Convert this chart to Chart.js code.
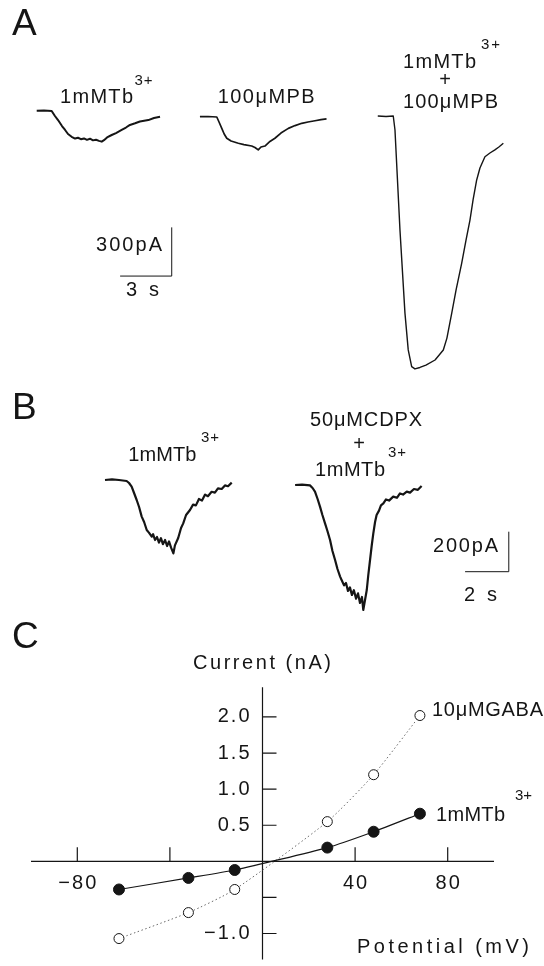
<!DOCTYPE html>
<html>
<head>
<meta charset="utf-8">
<title>Tb3+ currents</title>
<script src="https://cdn.jsdelivr.net/npm/chart.js@4.4.1/dist/chart.umd.min.js"></script>
<style>
    html, body { margin: 0; padding: 0; background: #fff; }
    body { width: 544px; height: 966px; position: relative; overflow: hidden; }
    canvas { position: absolute; left: 0; }
    #chart-a { top: 0; }
    #chart-b { top: 385px; }
    #chart-c { top: 620px; }
</style>
</head>
<body>
<canvas id="chart-a" width="544" height="385"></canvas>
<canvas id="chart-b" width="544" height="235"></canvas>
<canvas id="chart-c" width="544" height="346"></canvas>
<script>
'use strict';

// A: current traces, time in s, current in pA
var aTb3Time = [0, 0.42, 0.87, 1.06, 1.24, 1.47, 1.65, 1.82, 2.03, 2.23, 2.4, 2.57, 2.75, 2.92, 3.1, 3.27, 3.45, 3.62, 3.78, 3.91, 4.09, 4.36, 4.61, 4.94, 5.19, 5.42, 5.72, 6.0, 6.49, 6.82, 7.17];
var aTb3Current = [33, 34, 31, 0, -25, -62, -86, -111, -128, -139, -134, -143, -138, -147, -140, -150, -146, -153, -158, -149, -132, -117, -105, -86, -71, -55, -45, -34, -25, -12, -4];

var aPbTime = [9.49, 9.96, 10.47, 10.6, 10.76, 10.9, 11.05, 11.3, 11.72, 12.05, 12.5, 12.69, 12.88, 13.04, 13.27, 13.56, 13.85, 14.2, 14.63, 15.02, 15.41, 15.77, 16.18, 16.53, 16.85];
var aPbCurrent = [-4, -3, -6, -37, -76, -111, -137, -154, -168, -176, -185, -194, -209, -191, -185, -157, -137, -105, -76, -59, -45, -37, -29, -22, -18];

var aBothTime = [19.83, 20.31, 20.73, 20.83, 21.12, 21.41, 21.6, 21.8, 21.99, 22.28, 22.63, 23.16, 23.64, 23.85, 24.13, 24.38, 24.71, 24.96, 25.19, 25.37, 25.58, 25.77, 26.06, 26.35, 26.64, 26.87, 27.13];
var aBothCurrent = [0, -3, 0, -86, -702, -1214, -1441, -1544, -1558, -1549, -1534, -1503, -1441, -1368, -1214, -1072, -906, -764, -641, -517, -394, -320, -251, -228, -209, -191, -168];

var aScaleBarTime = [4.85, 7.85, 7.85];      // 3 s
var aScaleBarCurrent = [-986, -986, -686];   // 300 pA

// B: current traces, time in s, current in pA
var bTb3Time = [0, 0.32, 0.64, 0.99, 1.1, 1.22, 1.33, 1.45, 1.56, 1.68, 1.79, 1.91, 2.01, 2.14, 2.2, 2.29, 2.38, 2.47, 2.56, 2.65, 2.75, 2.84, 2.93, 3.02, 3.13, 3.2, 3.35, 3.48, 3.58, 3.71, 3.89, 4.03, 4.16, 4.3, 4.44, 4.58, 4.71, 4.88, 5.03, 5.17, 5.34, 5.49, 5.63, 5.8];
var bTb3Current = [15, 18, 15, 10, 0, -18, -50, -85, -120, -168, -195, -235, -248, -268, -256, -285, -270, -298, -276, -306, -285, -315, -292, -322, -352, -312, -275, -225, -202, -160, -135, -108, -112, -80, -88, -58, -66, -44, -48, -27, -30, -12, -16, 2];

var bCdpxTime = [8.7, 9.02, 9.38, 9.5, 9.61, 9.73, 9.84, 9.95, 10.07, 10.18, 10.3, 10.41, 10.53, 10.64, 10.76, 10.85, 10.94, 11.03, 11.12, 11.21, 11.3, 11.39, 11.49, 11.58, 11.67, 11.76, 11.82, 11.9, 11.98, 12.05, 12.13, 12.21, 12.28, 12.36, 12.43, 12.54, 12.63, 12.74, 12.86, 13.0, 13.19, 13.36, 13.5, 13.64, 13.81, 13.96, 14.14, 14.32, 14.49];
var bCdpxCurrent = [-10, -8, -12, -25, -43, -80, -118, -160, -202, -240, -285, -340, -385, -430, -468, -490, -512, -500, -540, -522, -560, -536, -578, -552, -600, -570, -635, -585, -535, -460, -385, -310, -252, -195, -160, -138, -112, -102, -82, -88, -68, -74, -52, -58, -43, -48, -30, -34, -15];

var bScaleBarTime = [16.48, 18.48, 18.48];      // 2 s
var bScaleBarCurrent = [-443.5, -443.5, -243.5]; // 200 pA

// C: current-voltage relation
var potentials = [-62, -32, -12, 28, 48, 68];
var tb3Currents = [-0.39, -0.23, -0.12, 0.19, 0.41, 0.66];
var gabaCurrents = [-1.07, -0.71, -0.39, 0.55, 1.2, 2.02];

var xTicks = [-80, -40, 40, 80];
var xTickLabels = ['\u221280', '', '40', '80'];
var yTicks = [2.0, 1.5, 1.0, 0.5, -0.5, -1.0];
var yTickLabels = ['2.0', '1.5', '1.0', '0.5', '', '\u22121.0'];

var ink = '#151515';
var fontFamily = '"Liberation Sans", Arial, sans-serif';

var toPoints = function (xs, ys) {
        return xs.map(function (x, i) { return { x: x, y: ys[i] }; });
    },

    drawText = function (ctx, label, top) {
        var size = label.size || 20,
            n = Array.from(label.text).length,
            w, ls, total, x;

        ctx.save();
        ctx.font = size + 'px ' + fontFamily;
        ctx.fillStyle = ink;
        ctx.textBaseline = 'middle';
        ctx.textAlign = 'left';
        ctx.letterSpacing = '0px';
        w = ctx.measureText(label.text).width;
        ls = label.width && n > 1 ? (label.width - w) / (n - 1) : (label.spacing || 0);
        total = w + ls * (n - 1);
        x = label.x;
        if (label.align === 'right') {
            x -= total;
        } else if (label.align === 'center') {
            x -= total / 2;
        }
        ctx.letterSpacing = ls + 'px';
        ctx.fillText(label.text, x, label.y - top);
        ctx.restore();
    },

    labelPlugin = {
        id: 'panelLabels',
        afterDraw: function (chart, args, opts) {
            (opts.labels || []).forEach(function (label) {
                drawText(chart.ctx, label, opts.top || 0);
            });
        }
    },

    crossAxesPlugin = {
        id: 'crossAxes',
        beforeDatasetsDraw: function (chart, args, opts) {
            var ctx = chart.ctx,
                xs = chart.scales.x,
                ys = chart.scales.y,
                x0 = xs.getPixelForValue(0),
                y0 = ys.getPixelForValue(0);

            ctx.save();
            ctx.strokeStyle = ink;
            ctx.lineWidth = 1.2;
            ctx.beginPath();
            ctx.moveTo(xs.getPixelForValue(opts.xFrom), y0);
            ctx.lineTo(xs.getPixelForValue(opts.xTo), y0);
            ctx.moveTo(x0, ys.getPixelForValue(opts.yTop));
            ctx.lineTo(x0, ys.getPixelForValue(opts.yBottom));
            xTicks.forEach(function (v) {
                var px = xs.getPixelForValue(v);
                ctx.moveTo(px, y0);
                ctx.lineTo(px, y0 - 14);
            });
            yTicks.forEach(function (v) {
                var py = ys.getPixelForValue(v);
                ctx.moveTo(x0, py);
                ctx.lineTo(x0 + 14, py);
            });
            ctx.stroke();
            ctx.restore();

            xTicks.forEach(function (v, i) {
                if (!xTickLabels[i]) { return; }
                drawText(ctx, { text: xTickLabels[i], x: xs.getPixelForValue(v), y: y0 + 22, align: 'center', spacing: 2 }, 0);
            });
            yTicks.forEach(function (v, i) {
                if (!yTickLabels[i]) { return; }
                drawText(ctx, { text: yTickLabels[i], x: x0 - 13, y: ys.getPixelForValue(v), align: 'right', spacing: 2 }, 0);
            });
        }
    },

    traceDataset = function (xs, ys, width) {
        return {
            data: toPoints(xs, ys),
            showLine: true,
            borderColor: ink,
            borderWidth: width,
            borderJoinStyle: 'round',
            pointRadius: 0,
            tension: 0
        };
    },

    baseOptions = function (xMin, xMax, yMin, yMax, padding, plugins) {
        return {
            responsive: false,
            animation: false,
            layout: { padding: padding },
            scales: {
                x: { type: 'linear', display: false, min: xMin, max: xMax },
                y: { type: 'linear', display: false, min: yMin, max: yMax }
            },
            plugins: Object.assign({ legend: { display: false }, tooltip: { enabled: false } }, plugins)
        };
    };

var labelsA = [
    { text: 'A', x: 12, y: 25, size: 37 },
    { text: '1mMTb', x: 60, y: 97, width: 73 },
    { text: '3+', x: 134.5, y: 81, width: 18, size: 15 },
    { text: '100\u03bcMPB', x: 217.7, y: 97, width: 97 },
    { text: '1mMTb', x: 403, y: 62, width: 73 },
    { text: '3+', x: 481, y: 45, width: 19, size: 15 },
    { text: '+', x: 445, y: 80, align: 'center' },
    { text: '100\u03bcMPB', x: 403, y: 102, width: 95 },
    { text: '300pA', x: 162, y: 245, width: 66, align: 'right' },
    { text: '3 s', x: 126, y: 290, width: 33 }
];

var labelsB = [
    { text: 'B', x: 12, y: 409, size: 37 },
    { text: '1mMTb', x: 128.3, y: 455, width: 68 },
    { text: '3+', x: 201, y: 438, width: 18, size: 15 },
    { text: '50\u03bcMCDPX', x: 310, y: 420, width: 112 },
    { text: '+', x: 359, y: 444, align: 'center' },
    { text: '1mMTb', x: 315, y: 470, width: 70 },
    { text: '3+', x: 388, y: 453, width: 18, size: 15 },
    { text: '200pA', x: 498, y: 546, width: 65, align: 'right' },
    { text: '2 s', x: 464, y: 595, width: 33 }
];

var labelsC = [
    { text: 'C', x: 12, y: 638, size: 37 },
    { text: 'Current (nA)', x: 262, y: 663, width: 138, align: 'center' },
    { text: '10\u03bcMGABA', x: 432, y: 710, width: 111 },
    { text: '1mMTb', x: 436, y: 815, width: 69 },
    { text: '3+', x: 515, y: 796, width: 17, size: 15 },
    { text: 'Potential (mV)', x: 357, y: 947, width: 172 }
];

new Chart(document.getElementById('chart-a'), {
    type: 'scatter',
    data: {
        datasets: [
            traceDataset(aTb3Time, aTb3Current, 2),
            traceDataset(aPbTime, aPbCurrent, 1.7),
            traceDataset(aBothTime, aBothCurrent, 1.4),
            traceDataset(aScaleBarTime, aScaleBarCurrent, 1)
        ]
    },
    options: baseOptions(-2.134, 29.494, -1657, 714.6, 0, { panelLabels: { top: 0, labels: labelsA } }),
    plugins: [labelPlugin]
});

new Chart(document.getElementById('chart-b'), {
    type: 'scatter',
    data: {
        datasets: [
            traceDataset(bTb3Time, bTb3Current, 2.2),
            traceDataset(bCdpxTime, bCdpxCurrent, 2.2),
            traceDataset(bScaleBarTime, bScaleBarCurrent, 1)
        ]
    },
    options: baseOptions(-4.8055, 20.0915, -685, 490, 0, { panelLabels: { top: 385, labels: labelsB } }),
    plugins: [labelPlugin]
});

new Chart(document.getElementById('chart-c'), {
    type: 'scatter',
    data: {
        datasets: [
            {
                data: toPoints(potentials, tb3Currents),
                showLine: true,
                borderColor: ink,
                borderWidth: 1.2,
                tension: 0.2,
                pointRadius: 5.5,
                pointBackgroundColor: ink,
                pointBorderColor: ink,
                pointBorderWidth: 1
            },
            {
                data: toPoints(potentials, gabaCurrents),
                showLine: true,
                borderColor: '#6a6a6a',
                borderWidth: 1,
                borderDash: [1.5, 2.5],
                tension: 0.2,
                pointRadius: 5,
                pointBackgroundColor: '#fff',
                pointBorderColor: ink,
                pointBorderWidth: 1
            }
        ]
    },
    options: baseOptions(-100, 100, -1.36, 3.2533, { left: 31, right: 50, top: 0, bottom: 0 }, {
        panelLabels: { top: 620, labels: labelsC },
        crossAxes: { xFrom: -100, xTo: 100, yTop: 2.413, yBottom: -1.36 }
    }),
    plugins: [crossAxesPlugin, labelPlugin]
});
</script>
</body>
</html>
